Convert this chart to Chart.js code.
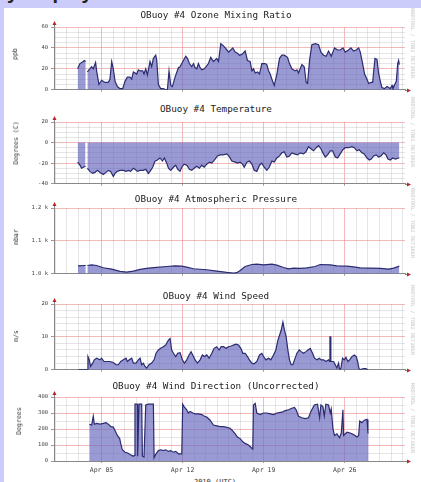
<!DOCTYPE html>
<html>
<head>
<meta charset="utf-8">
<script src="https://cdn.jsdelivr.net/npm/chart.js@4.4.0/dist/chart.umd.min.js"></script>
<style>
  html, body { margin: 0; padding: 0; }
  body { width: 421px; height: 482px; overflow: hidden; position: relative; background: #ccccfa; font-family: "DejaVu Sans Mono", monospace; }
  #head { position: absolute; left: 7px; top: -18px; font: bold 20px "Liberation Sans", Arial, sans-serif; line-height: 20px; color: #222; white-space: nowrap; }
  #sheet { position: absolute; left: 4px; top: 8px; right: 0; bottom: 0; background: #fff; }
  canvas { position: absolute; left: 0; }
  .title { position: absolute; font-size: 9.3px; color: #222; white-space: nowrap; transform: translate(-50%, -50%); }
  .unit { position: absolute; font-size: 6.5px; color: #333; white-space: nowrap; transform: translate(-50%, -50%) rotate(-90deg); }
  .mark { position: absolute; font-size: 5.3px; color: #c4c4c4; white-space: nowrap; transform: translate(-50%, -50%) rotate(90deg); }
  #caption { position: absolute; left: 215px; top: 478px; font-size: 7px; color: #333; transform: translateX(-50%); white-space: nowrap; }
</style>
</head>
<body>
<div id="head">y display</div>
<div id="sheet"></div>
<div id="caption">2010 (UTC)</div>
<script>
// time axis is in days of April 2010 (5.5 = Apr 05 12:00)
const dateTickDays = [5, 12, 19, 26];
const dateTickLabels = ['Apr 05', 'Apr 12', 'Apr 19', 'Apr 26'];

const ozoneDays = [
  2.94, 3.14, 3.43, 3.51, 3.64, 3.71, 3.78, 4.15, 4.29, 4.49,
  4.58, 4.78, 5.01, 5.30, 5.59, 5.73, 5.88, 6.02, 6.17, 6.37,
  6.60, 6.83, 7.03, 7.23, 7.46, 7.61, 7.75, 8.04, 8.18, 8.33,
  8.56, 8.67, 8.82, 8.96, 9.19, 9.33, 9.48, 9.68, 9.77, 9.91,
  10.11, 10.34, 10.54, 10.69, 10.83, 10.98, 11.12, 11.35, 11.64, 11.78,
  12.07, 12.27, 12.42, 12.59, 12.79, 12.94, 13.08, 13.22, 13.37, 13.51,
  13.66, 13.86, 14.03, 14.23, 14.43, 14.66, 14.95, 15.10, 15.30, 15.53,
  15.76, 15.96, 16.16, 16.33, 16.54, 16.74, 16.91, 17.15, 17.40, 17.60,
  17.83, 17.98, 18.12, 18.27, 18.47, 18.64, 18.84, 19.13, 19.27, 19.42,
  19.56, 19.71, 19.91, 20.14, 20.37, 20.57, 20.77, 21.06, 21.23, 21.43,
  21.72, 21.87, 22.01, 22.30, 22.50, 22.67, 22.79, 22.96, 23.16, 23.45,
  23.74, 23.94, 24.17, 24.40, 24.60, 24.83, 25.12, 25.38, 25.61, 25.84,
  26.04, 26.33, 26.53, 26.76, 26.99, 27.20, 27.34, 27.54, 27.71, 27.92,
  28.06, 28.26, 28.41, 28.49, 28.61, 28.78, 28.92, 29.07, 29.21, 29.42,
  29.65, 29.79, 29.93, 30.08, 30.16, 30.31, 30.45, 30.57, 30.65, 30.71
];
const ozonePpb = [
  20, 25, 27, 28, 27, null, 17, 22, 20, 26,
  18, 5, 9, 7, 7, 10, 27, 20, 8, 3,
  1, 1, 8, 12, 12, 10, 17, 15, 19, 18,
  18, 15, 20, 14, 27, 22, 30, 33, 28, 5,
  1, 1, 0, 0, 18, 4, 3, 12, 21, 22,
  28, 32, 30, 25, 22, 25, 21, 20, 25, 21,
  19, 20, 22, 25, 31, 27, 30, 27, 44, 42,
  39, 36, 38, 40, 36, 35, 33, 34, 37, 28,
  27, 18, 20, 16, 17, 15, 25, 25, 24, 18,
  15, 10, 4, 15, 30, 33, 33, 31, 25, 20,
  18, 19, 16, 24, 22, 7, 6, 28, 43, 44,
  43, 36, 33, 32, 37, 32, 40, 38, 38, 40,
  36, 38, 40, 37, 38, 40, 36, 25, 15, 10,
  6, 7, 7, 17, 30, 29, 16, 8, 2, 1,
  3, 2, 1, 4, 1, 5, 8, 25, 28, 24
];

const tempDays = [
  2.94, 3.14, 3.28, 3.43, 3.62, 3.70, 3.78, 4.00, 4.24, 4.44,
  4.64, 4.87, 5.16, 5.39, 5.59, 5.79, 6.02, 6.17, 6.37, 6.60,
  6.89, 7.12, 7.32, 7.52, 7.75, 7.89, 8.10, 8.33, 8.61, 8.82,
  9.05, 9.19, 9.42, 9.62, 9.82, 10.05, 10.26, 10.43, 10.63, 10.78,
  10.98, 11.21, 11.41, 11.58, 11.78, 11.93, 12.13, 12.36, 12.59, 12.79,
  12.99, 13.22, 13.45, 13.66, 13.86, 14.09, 14.32, 14.52, 14.81, 15.01,
  15.24, 15.53, 15.82, 16.05, 16.25, 16.54, 16.74, 16.97, 17.17, 17.32,
  17.55, 17.77, 17.98, 18.18, 18.41, 18.64, 18.84, 19.04, 19.27, 19.48,
  19.71, 19.91, 20.14, 20.37, 20.57, 20.77, 21.00, 21.23, 21.43, 21.66,
  21.92, 22.16, 22.44, 22.65, 22.87, 23.08, 23.31, 23.54, 23.74, 23.94,
  24.11, 24.32, 24.52, 24.75, 24.95, 25.18, 25.38, 25.61, 25.84, 26.04,
  26.33, 26.62, 26.82, 27.05, 27.25, 27.48, 27.68, 27.92, 28.12, 28.29,
  28.49, 28.72, 28.92, 29.12, 29.36, 29.56, 29.73, 29.93, 30.14, 30.37,
  30.65, 30.71
];
const tempC = [
  -19, -22, -25, -24, -23, null, -25, -28, -30, -29,
  -27, -29, -31, -29, -27, -28, -33, -30, -28, -27,
  -27, -28, -27, -28, -25, -26, -28, -27, -27, -26,
  -30, -28, -24, -18, -17, -15, -18, -15, -20, -25,
  -27, -24, -22, -26, -28, -24, -21, -22, -26, -27,
  -25, -23, -25, -22, -24, -21, -19, -20, -16, -13,
  -12, -12, -11, -14, -18, -19, -20, -19, -21, -24,
  -19, -18, -21, -27, -28, -22, -20, -24, -27, -24,
  -18, -19, -15, -13, -10, -9, -14, -13, -10, -11,
  -12, -10, -11, -9, -4, -6, -8, -5, -3, -6,
  -10, -14, -12, -8, -8, -14, -15, -11, -7, -5,
  -5, -4, -5, -8, -7, -10, -11, -15, -17, -16,
  -13, -12, -14, -13, -10, -12, -16, -17, -15, -16,
  -15, -15
];

const pressDays = [
  2.97, 3.57, 3.64, 3.71, 3.78, 4.15, 4.58, 5.16, 5.88, 6.60,
  7.17, 7.75, 8.33, 9.05, 9.77, 10.63, 11.35, 11.93, 12.36, 12.94,
  14.09, 14.95, 15.82, 16.39, 16.68, 16.97, 17.40, 17.98, 18.41, 18.99,
  19.71, 20.14, 20.71, 21.15, 21.58, 22.16, 22.73, 23.45, 23.88, 24.75,
  25.32, 26.19, 26.76, 27.34, 28.20, 29.07, 29.79, 30.22, 30.65, 30.71
];
const pressMbar = [
  1024, 1025, 1025, null, 1025, 1027, 1025, 1018, 1014, 1007,
  1005, 1008, 1013, 1017, 1019, 1022, 1024, 1023, 1020, 1015,
  1012, 1008, 1004, 1002, 1003, 1010, 1022, 1028, 1029, 1027,
  1029, 1026, 1019, 1015, 1017, 1016, 1018, 1022, 1028, 1027,
  1024, 1023, 1021, 1018, 1017, 1016, 1014, 1017, 1022, 1022
];

const windDays = [
  3.00, 3.77, 3.83, 3.95, 4.06, 4.24, 4.38, 4.58, 4.87, 5.01,
  5.21, 5.45, 5.73, 6.02, 6.25, 6.45, 6.66, 6.89, 7.12, 7.23,
  7.40, 7.61, 7.75, 7.98, 8.18, 8.33, 8.47, 8.61, 8.76, 8.90,
  9.10, 9.33, 9.54, 9.71, 9.91, 10.11, 10.34, 10.54, 10.78, 10.92,
  11.06, 11.21, 11.41, 11.58, 11.78, 11.98, 12.16, 12.36, 12.56, 12.73,
  12.94, 13.08, 13.28, 13.51, 13.71, 13.89, 14.09, 14.29, 14.52, 14.72,
  14.95, 15.15, 15.33, 15.53, 15.76, 15.96, 16.19, 16.39, 16.62, 16.83,
  17.03, 17.20, 17.40, 17.60, 17.77, 17.98, 18.18, 18.41, 18.64, 18.84,
  18.99, 19.19, 19.42, 19.62, 19.85, 20.05, 20.23, 20.37, 20.51, 20.66,
  20.80, 20.94, 21.09, 21.23, 21.38, 21.52, 21.66, 21.87, 22.07, 22.24,
  22.44, 22.65, 22.82, 23.02, 23.22, 23.39, 23.60, 23.80, 23.97, 24.17,
  24.37, 24.60, 24.69, 24.72, 24.77, 24.80, 25.04, 25.18, 25.32, 25.47,
  25.55, 25.67, 25.81, 25.96, 26.10, 26.27, 26.42, 26.62, 26.82, 26.99,
  27.11, 27.23, 27.34, 27.63, 27.83, 28.00
];
const windMs = [
  0, 0, 4, 3, 1, 2, 3, 3.5, 3, 3.5,
  2.5, 2.5, 2.5, 2.2, 1.5, 1.5, 2.5, 3, 3.5, 2.5,
  3, 3.5, 2, 2, 3, 3.5, 1.5, 2, 1, 0.5,
  1.5, 2, 3, 5, 6, 6.5, 7, 7.5, 9, 9.5,
  6, 5, 4, 5, 5.2, 3, 2, 3, 4.5, 5.5,
  4, 3, 2, 3, 4.5, 4, 4.5, 3.5, 5, 6.5,
  7, 6, 7, 7, 6.5, 7, 7.2, 7.5, 7.8, 7.5,
  6.5, 5, 5, 4, 3, 2, 1.8, 2.5, 4.5, 5,
  4, 3, 3.5, 3, 4.5, 6, 9, 10.5, 12, 14.5,
  12, 10, 6, 3, 1.5, 1.5, 3, 5, 6, 5.5,
  5, 5.5, 6, 6.5, 5, 3.5, 3, 3.5, 3, 3,
  2.5, 3, 2.5, 10, 10, 2.5, 2.5, 1.5, 0.5, 2,
  0, 0.5, 3.5, 3, 3.8, 2.5, 3, 4, 4.5, 4,
  2.5, 0.3, 0, 0.3, 0.3, 0
];

const dirDays = [
  3.95, 4.15, 4.29, 4.38, 4.58, 4.87, 5.16, 5.39, 5.59, 5.82,
  6.02, 6.17, 6.37, 6.57, 6.66, 6.80, 7.03, 7.26, 7.46, 7.61,
  7.75, 7.84, 7.89, 8.10, 8.12, 8.24, 8.47, 8.53, 8.67, 8.82,
  9.05, 9.48, 9.54, 9.71, 9.91, 10.11, 10.34, 10.54, 10.78, 10.98,
  11.21, 11.41, 11.64, 11.93, 12.01, 12.13, 12.36, 12.50, 12.65, 12.88,
  13.08, 13.37, 13.66, 13.89, 14.09, 14.37, 14.66, 14.95, 15.24, 15.53,
  15.82, 16.10, 16.31, 16.54, 16.74, 16.97, 17.20, 17.40, 17.69, 17.98,
  18.06, 18.12, 18.27, 18.41, 18.70, 18.99, 19.27, 19.56, 19.85, 20.14,
  20.57, 20.86, 21.15, 21.43, 21.66, 21.80, 22.01, 22.30, 22.59, 22.87,
  23.08, 23.37, 23.65, 23.83, 23.94, 24.11, 24.23, 24.37, 24.60, 24.75,
  24.83, 24.98, 25.12, 25.32, 25.55, 25.70, 25.84, 25.90, 26.19, 26.47,
  26.76, 27.05, 27.20, 27.29, 27.48, 27.68, 27.92, 28.00, 28.06
];
const dirDeg = [
  230, 225, 280, 230, 235, 230, 235, 240, 230, 215,
  212, 190, 160, 140, 110, 70, 55, 50, 40, 35,
  30, 35, 355, 355, 30, 355, 355, 30, 25, 350,
  355, 355, 20, 45, 65, 70, 65, 70, 60, 65,
  55, 60, 45, 45, 355, 340, 320, 300, 310, 300,
  295, 295, 290, 280, 275, 255, 225, 220, 215, 215,
  210, 205, 190, 170, 150, 140, 120, 110, 100, 80,
  75, 350, 360, 300, 290, 300, 300, 295, 290, 300,
  305, 315, 320, 330, 335, 320, 280, 270, 265, 270,
  310, 350, 355, 270, 350, 340, 280, 355, 350, 300,
  325, 200, 160, 170, 145, 175, 320, 160, 180, 175,
  165, 150, 160, 250, 240, 255, 260, 175, 175
];

const MAJOR_GRID = 'rgba(235, 130, 130, 0.55)';
const MINOR_GRID = 'rgba(190, 190, 190, 0.4)';

const panels = [
  { title: 'OBuoy #4 Ozone Mixing Ratio', unit: 'ppb', days: ozoneDays, values: ozonePpb,
    min: 0, max: 60, step: 5, major: 20, fill: 'origin',
    top: 27, bottom: 92, titleY: 14, unitX: 15, unitY: 54, markY: 43 },
  { title: 'OBuoy #4 Temperature', unit: 'Degrees (C)', days: tempDays, values: tempC,
    min: -40, max: 20, step: 5, major: 20, fill: 'origin',
    top: 122, bottom: 186, titleY: 108, unitX: 16, unitY: 143, markY: 132 },
  { title: 'OBuoy #4 Atmospheric Pressure', unit: 'mbar', days: pressDays, values: pressMbar,
    min: 1000, max: 1200, step: 100, major: 100, fill: 'start',
    top: 208, bottom: 276, titleY: 198, unitX: 16, unitY: 237, markY: 223,
    label: v => (v / 1000).toFixed(1) + ' k' },
  { title: 'OBuoy #4 Wind Speed', unit: 'm/s', days: windDays, values: windMs,
    min: 0, max: 20, step: 2, major: 10, fill: 'origin',
    top: 304, bottom: 372, titleY: 295, unitX: 16, unitY: 336, markY: 320 },
  { title: 'OBuoy #4 Wind Direction (Uncorrected)', unit: 'Degrees', days: dirDays, values: dirDeg,
    min: 0, max: 400, step: 50, major: 100, fill: 'origin',
    top: 397, bottom: 461, titleY: 385, unitX: 19, unitY: 421, markY: 418, dates: true }
];

// small red arrow heads at the ends of the axes, like rrdtool draws them
const arrowPlugin = {
  id: 'arrows',
  afterDraw(chart) {
    const { ctx, chartArea: a } = chart;
    const x = Math.round(a.left) + 0.5;
    const y = Math.round(a.bottom) + 0.5;
    ctx.save();
    ctx.strokeStyle = '#888';
    ctx.lineWidth = 1;
    ctx.beginPath();
    ctx.moveTo(x, a.top);
    ctx.lineTo(x, a.top - 3);
    ctx.moveTo(a.right, y);
    ctx.lineTo(a.right + 3, y);
    ctx.stroke();
    ctx.fillStyle = '#b42828';
    ctx.beginPath();
    ctx.moveTo(x - 2, a.top - 2);
    ctx.lineTo(x + 2, a.top - 2);
    ctx.lineTo(x, a.top - 6);
    ctx.closePath();
    ctx.fill();
    ctx.beginPath();
    ctx.moveTo(a.right + 2, y - 2);
    ctx.lineTo(a.right + 2, y + 2);
    ctx.lineTo(a.right + 6, y);
    ctx.closePath();
    ctx.fill();
    ctx.restore();
  }
};

function addText(cls, text, x, y) {
  const el = document.createElement('div');
  el.className = cls;
  el.textContent = text;
  el.style.left = x + 'px';
  el.style.top = y + 'px';
  document.body.appendChild(el);
}

panels.forEach(p => {
  const xh = p.dates ? 20 : 4;
  const height = (p.bottom - p.top) + 8 + xh;
  const canvas = document.createElement('canvas');
  canvas.width = 421;
  canvas.height = height;
  canvas.style.width = '421px';
  canvas.style.height = height + 'px';
  canvas.style.top = (p.top - 8) + 'px';
  document.body.appendChild(canvas);

  addText('title', p.title, 216, p.titleY);
  addText('unit', p.unit, p.unitX, p.unitY);
  addText('mark', 'RRDTOOL / TOBI OETIKER', 413, p.markY);

  const isMajorY = v => Math.abs(v % p.major) < 1e-9;

  new Chart(canvas, {
    type: 'line',
    data: {
      datasets: [{
        data: p.days.map((d, i) => ({ x: d, y: p.values[i] })),
        borderColor: '#2c2c70',
        backgroundColor: 'rgba(105, 105, 190, 0.68)',
        borderWidth: 1.2,
        pointRadius: 0,
        tension: 0,
        spanGaps: false,
        fill: p.fill
      }]
    },
    options: {
      responsive: false,
      animation: false,
      events: [],
      layout: { padding: { left: 4, right: 16, top: 8, bottom: 0 } },
      plugins: {
        legend: { display: false }, // no legend on these graphs
        tooltip: { enabled: false }
      },
      scales: {
        x: {
          type: 'linear',
          min: 0.9,
          max: 31.2,
          afterFit: s => { s.height = xh; },
          border: { color: '#888' },
          grid: {
            color: c => (c.tick && dateTickDays.includes(c.tick.value)) ? MAJOR_GRID : MINOR_GRID,
            tickColor: c => (c.tick && dateTickDays.includes(c.tick.value)) ? '#999' : 'rgba(0,0,0,0)',
            tickLength: 2
          },
          ticks: {
            display: !!p.dates,
            stepSize: 1,
            includeBounds: false,
            autoSkip: false,
            maxRotation: 0,
            padding: 3,
            color: '#444',
            font: { family: 'DejaVu Sans Mono', size: 6.5 },
            callback: v => {
              const i = dateTickDays.indexOf(v);
              return i >= 0 ? dateTickLabels[i] : '';
            }
          }
        },
        y: {
          min: p.min,
          max: p.max,
          afterFit: s => { s.width = 50; },
          border: { color: '#888' },
          grid: {
            color: c => (c.tick && isMajorY(c.tick.value)) ? MAJOR_GRID : MINOR_GRID,
            tickColor: c => (c.tick && isMajorY(c.tick.value)) ? '#999' : 'rgba(0,0,0,0)',
            tickLength: 3
          },
          ticks: {
            stepSize: p.step,
            autoSkip: false,
            padding: 3,
            color: '#444',
            font: { family: 'DejaVu Sans Mono', size: 5.5 },
            callback: v => isMajorY(v) ? (p.label ? p.label(v) : String(v)) : ''
          }
        }
      }
    },
    plugins: [arrowPlugin]
  });
});
</script>
</body>
</html>
